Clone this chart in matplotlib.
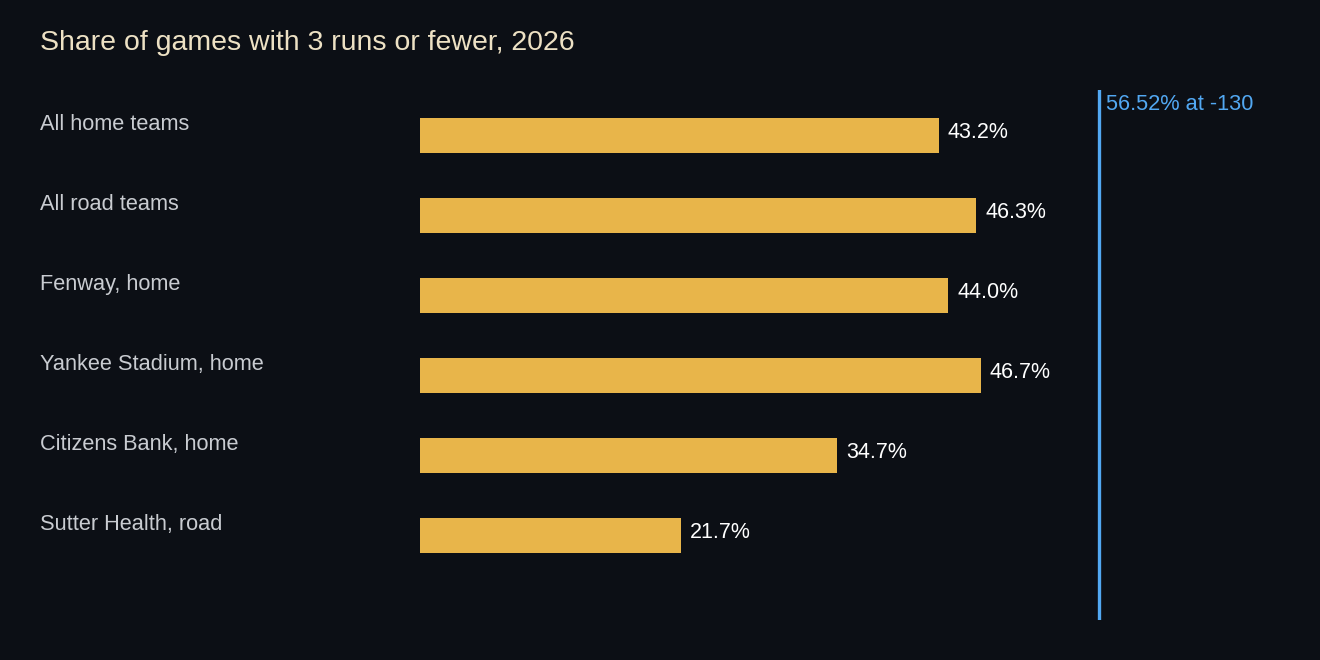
import matplotlib
matplotlib.use("Agg")
import matplotlib.pyplot as plt
from matplotlib.transforms import blended_transform_factory

categories = ["All home teams", "All road teams", "Fenway, home",
              "Yankee Stadium, home", "Citizens Bank, home", "Sutter Health, road"]
values = [43.2, 46.3, 44.0, 46.7, 34.7, 21.7]
ref_value = 56.52
ref_label = "56.52% at -130"
title = "Share of games with 3 runs or fewer, 2026"

BG = "#0c0f15"
BAR = "#e8b54a"
TITLE_C = "#ede1c4"
CAT_C = "#c9ccd1"
VAL_C = "#ffffff"
BLUE = "#52a8f2"

plt.rcParams['font.family'] = ['Liberation Sans', 'DejaVu Sans']

W, H = 1320, 660
fig = plt.figure(figsize=(W / 100, H / 100), dpi=100, facecolor=BG)

px_per_pct = 12.01
ax_left, ax_right = 420, 1320
ax_top, ax_bot = 90, 620
ax = fig.add_axes([ax_left / W, 1 - ax_bot / H, (ax_right - ax_left) / W, (ax_bot - ax_top) / H])
ax.set_facecolor(BG)
ax.set_xlim(0, (ax_right - ax_left) / px_per_pct)
row0, step = 135.5, 80.0
ax.set_ylim((ax_bot - row0) / step, (ax_top - row0) / step)
for s in ax.spines.values():
    s.set_visible(False)
ax.set_xticks([])
ax.set_yticks([])

ypos = list(range(len(categories)))
ax.barh(ypos, values, height=35 / step, color=BAR, align='center')

for y, v in zip(ypos, values):
    ax.annotate(f"{v:.1f}%", xy=(v, y + 2.8 / step), xytext=(6.5, 0), textcoords='offset points',
                ha='left', va='baseline', color=VAL_C, fontsize=15.5)

tr = blended_transform_factory(fig.transFigure, ax.transData)
for y, c in zip(ypos, categories):
    ax.text(40 / W, y - 5.5 / step, c, transform=tr, ha='left', va='baseline',
            color=CAT_C, fontsize=15.7)

ax.axvline(ref_value, color=BLUE, lw=2.4, ymin=0, ymax=1)
ax.annotate(ref_label, xy=(ref_value, (110 - row0) / step), xytext=(5.5, 0), textcoords='offset points',
            ha='left', va='baseline', color=BLUE, fontsize=15.7)

fig.text(40 / W, 1 - 50 / H, title, ha='left', va='baseline', color=TITLE_C, fontsize=20.5)

fig.savefig("out.png", dpi=100, facecolor=BG)
